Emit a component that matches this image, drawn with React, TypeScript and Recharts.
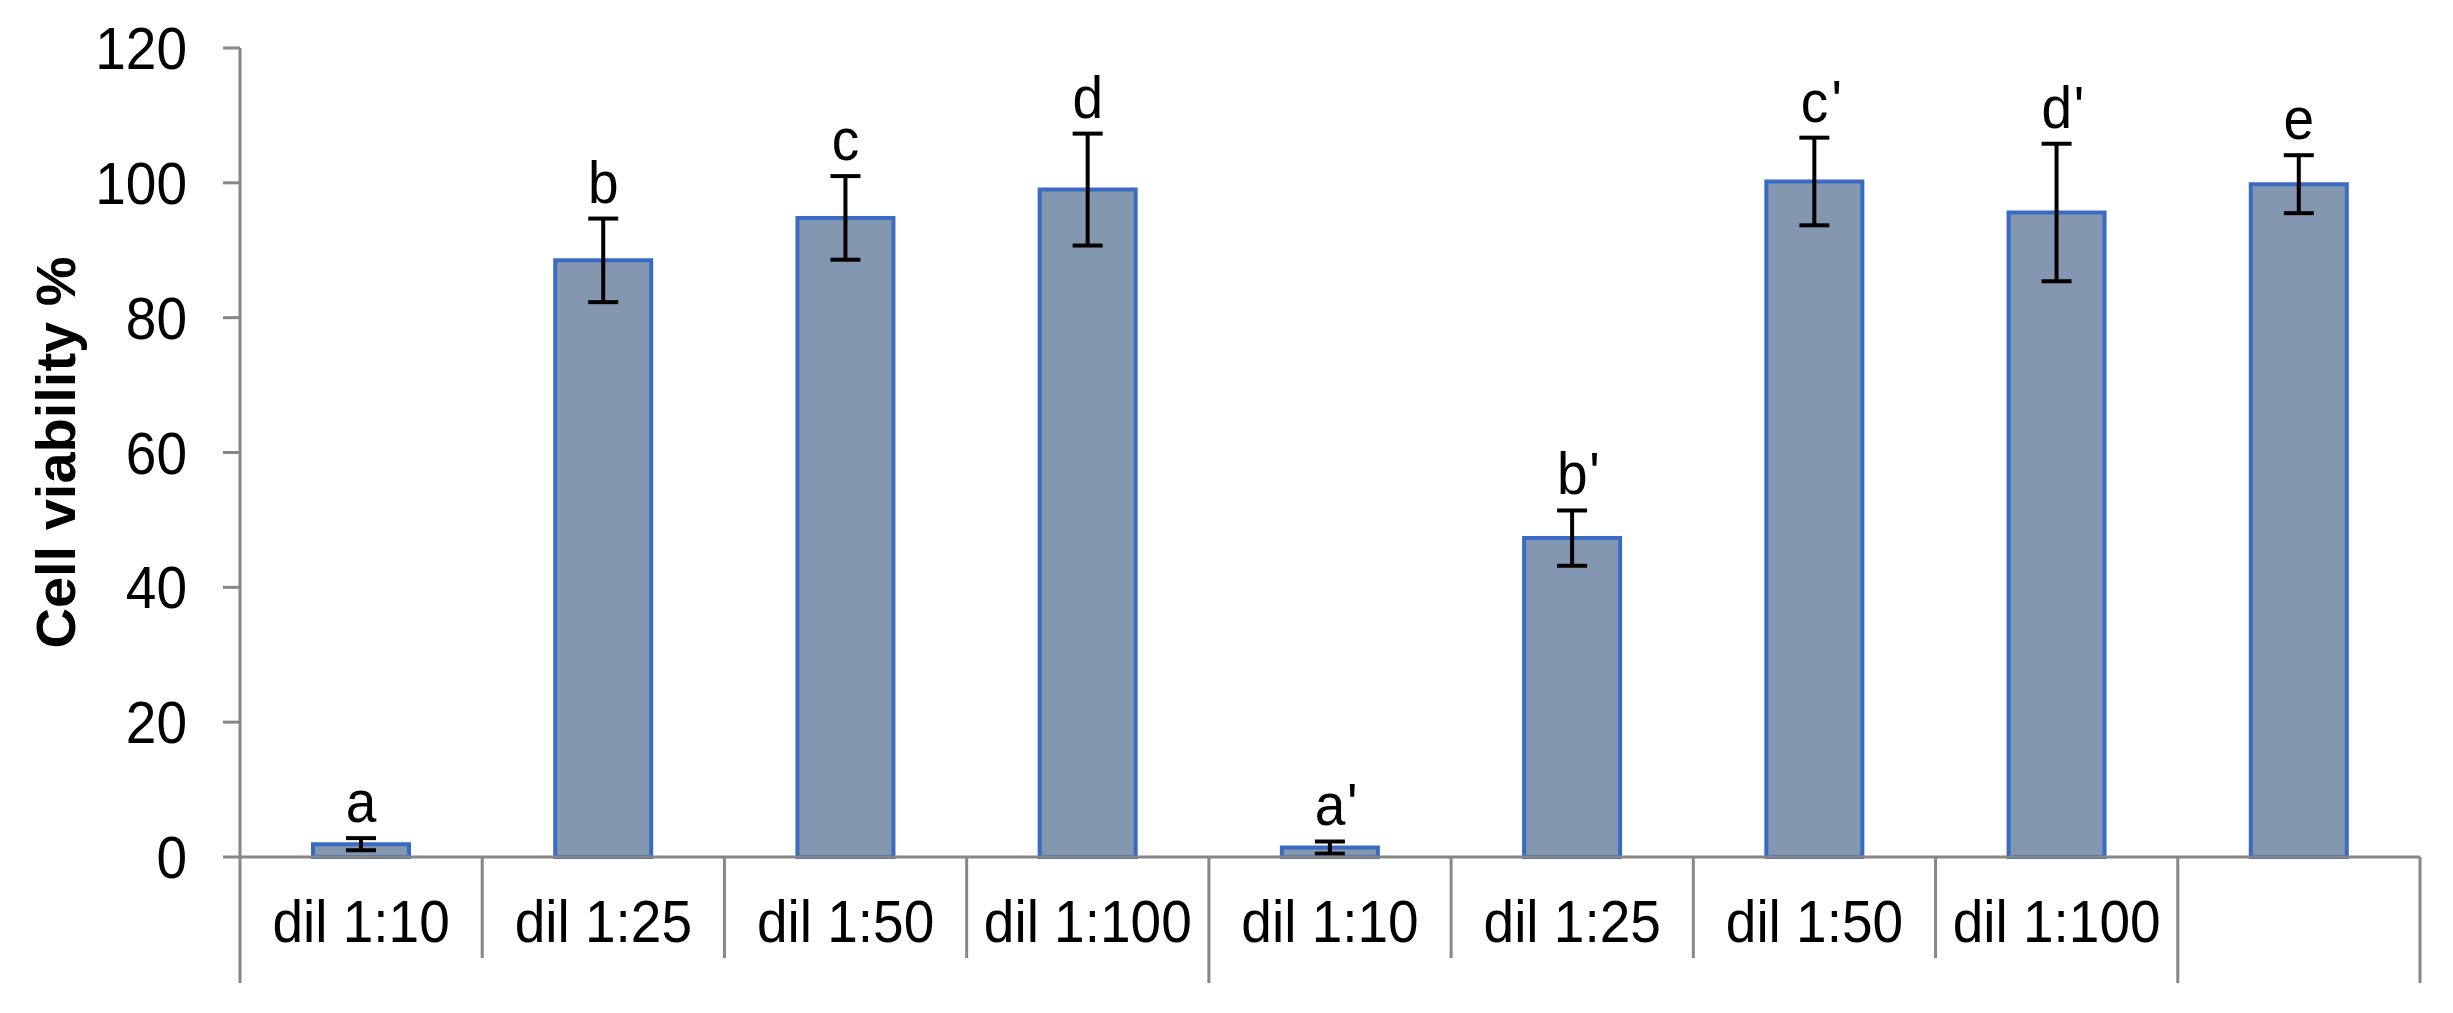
import React from 'react';
import {
  ComposedChart, Bar, Line, XAxis, YAxis, ErrorBar, LabelList, Label,
} from 'recharts';

// values
const categories = ['dil 1:10', 'dil 1:25', 'dil 1:50', 'dil 1:100', 'dil 1:10', 'dil 1:25', 'dil 1:50', 'dil 1:100', ''];
const groups = [0, 0, 0, 0, 1, 1, 1, 1, 2];
const viability = [1.9, 88.5, 94.8, 99.0, 1.4, 47.3, 100.2, 95.6, 99.8];
const sd = [0.9, 6.2, 6.2, 8.3, 0.9, 4.1, 6.5, 10.2, 4.3];
const letters = ['a', 'b', 'c', 'd', "a'", "b'", "c'", "d'", 'e'];
const yTicks = [0, 20, 40, 60, 80, 100, 120];

const data = categories.map((name, i) => ({
  name,
  group: groups[i],
  value: viability[i],
  err: sd[i],
  top: viability[i] + sd[i],
  letter: letters[i],
}));

const W = 2453;
const H = 1013;
const MARGIN = { top: 48, right: 33, bottom: 0, left: 0 };
const Y_AXIS_W = 240;
const X_AXIS_H = 156;
const HALF_BAND = (W - MARGIN.left - MARGIN.right - Y_AXIS_W) / categories.length / 2;

const FONT = '"Liberation Sans", Arial, sans-serif';
const FS = 55;
const STRETCH = 1.07; // the source figure's text is a little taller than wide
const AXIS_GREY = '#868686';

// text drawn at a baseline point, stretched vertically about that baseline
const Txt = ({ x, y, anchor = 'middle', children, bold = false }: any) => (
  <text
    transform={`translate(${x} ${y}) scale(1 ${STRETCH})`}
    textAnchor={anchor}
    fontSize={FS}
    fontWeight={bold ? 'bold' : 'normal'}
    fontFamily={FONT}
    fill="#000"
  >
    {children}
  </text>
);

const CategoryTick = (props: any) => {
  const { x, y, payload, index } = props;
  const i = index ?? payload.index;
  const leftLong = i === 0 || groups[i] !== groups[i - 1];
  const isLast = i === categories.length - 1;
  return (
    <g>
      <line
        x1={x - HALF_BAND} x2={x - HALF_BAND}
        y1={y} y2={y + (leftLong ? 126 : 101)}
        stroke={AXIS_GREY} strokeWidth={3}
      />
      {isLast && (
        <line
          x1={x + HALF_BAND} x2={x + HALF_BAND}
          y1={y} y2={y + 126}
          stroke={AXIS_GREY} strokeWidth={3}
        />
      )}
      <Txt x={x} y={y + 85}>{payload.value}</Txt>
    </g>
  );
};

const ValueTick = (props: any) => {
  const { x, y, payload } = props;
  return <Txt x={x} y={y + 21} anchor="end">{payload.value}</Txt>;
};

const LetterLabel = (props: any) => {
  const { x, y, value } = props;
  const s = String(value);
  const base = s.replace("'", '');
  const prime = s.includes("'");
  return (
    <g>
      <Txt x={x} y={y - 16}>{base}</Txt>
      {prime && <Txt x={x + 17} y={y - 16} anchor="start">'</Txt>}
    </g>
  );
};

const YTitle = (props: any) => {
  const vb = props.viewBox;
  const cy = vb.y + vb.height / 2;
  const cx = 75;
  return (
    <text
      x={cx} y={cy}
      transform={`rotate(-90, ${cx}, ${cy})`}
      textAnchor="middle"
      fontSize={56}
      fontWeight="bold"
      fontFamily={FONT}
      fill="#000"
    >
      Cell viability %
    </text>
  );
};

export default function App() {
  return (
    <div style={{ position: 'absolute', left: 0, top: 0, width: W, height: H, background: '#fff' }}>
      <ComposedChart width={W} height={H} data={data} margin={MARGIN}>
        <XAxis
          dataKey="name"
          interval={0}
          height={X_AXIS_H}
          tickSize={0}
          tickMargin={0}
          tickLine={false}
          axisLine={{ stroke: AXIS_GREY, strokeWidth: 3 }}
          tick={<CategoryTick />}
        />
        <YAxis
          width={Y_AXIS_W}
          domain={[0, 120]}
          ticks={yTicks}
          interval={0}
          tickSize={17}
          tickMargin={36}
          axisLine={{ stroke: AXIS_GREY, strokeWidth: 3 }}
          tickLine={{ stroke: AXIS_GREY, strokeWidth: 3 }}
          tick={<ValueTick />}
        >
          <Label content={<YTitle />} />
        </YAxis>
        <Bar
          dataKey="value"
          fill="#8497B0"
          stroke="#3A6BC2"
          strokeWidth={4}
          barSize={96}
          isAnimationActive={false}
        >
          <ErrorBar
            dataKey="err"
            width={15}
            stroke="#000"
            strokeWidth={4}
            direction="y"
            isAnimationActive={false}
          />
        </Bar>
        <Line
          dataKey="top"
          stroke="none"
          dot={false}
          activeDot={false}
          legendType="none"
          isAnimationActive={false}
        >
          <LabelList dataKey="letter" content={<LetterLabel />} />
        </Line>
      </ComposedChart>
    </div>
  );
}
